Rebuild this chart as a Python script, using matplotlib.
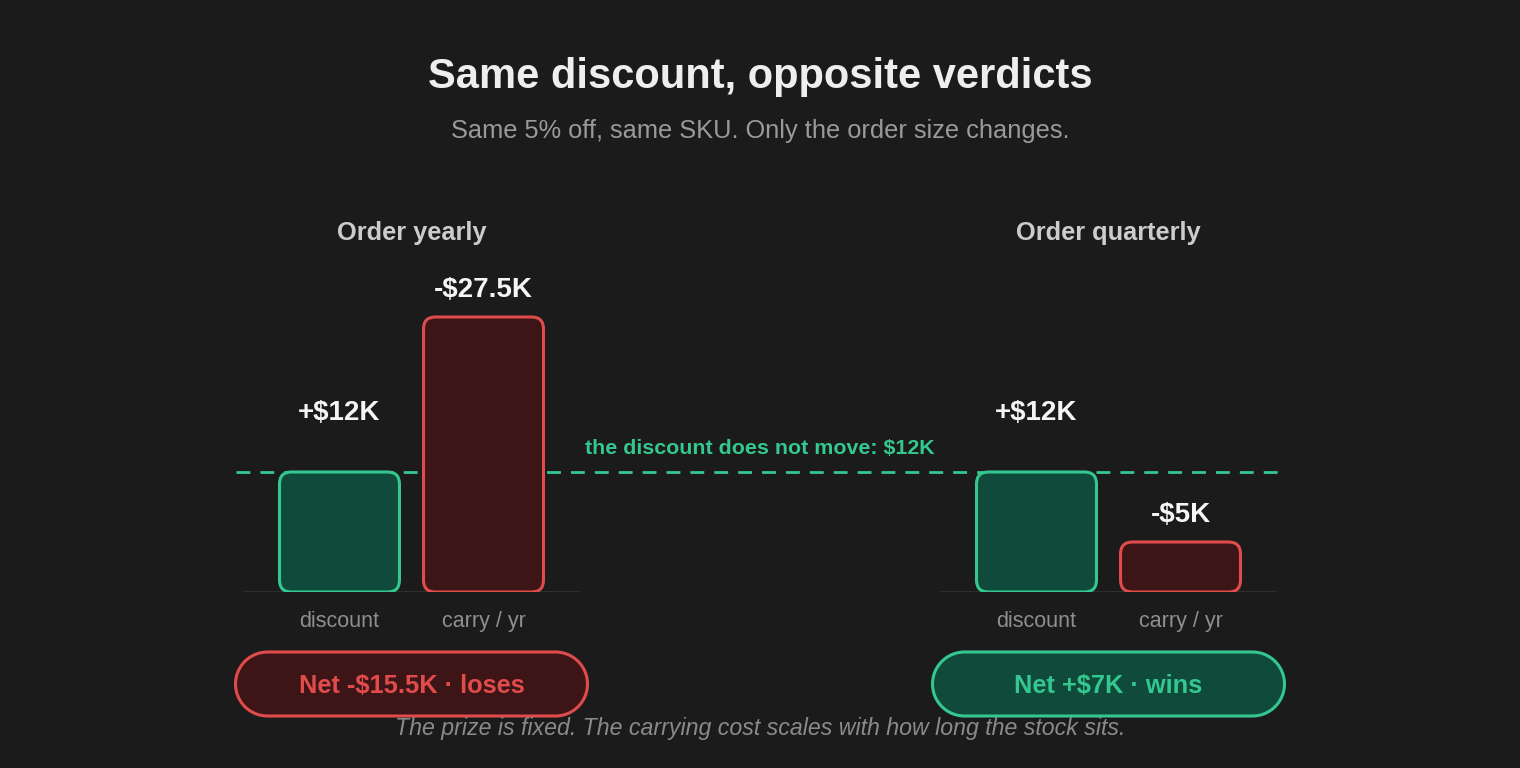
import numpy as np
import matplotlib
matplotlib.use("Agg")
import matplotlib.pyplot as plt
from matplotlib.patches import FancyBboxPatch, Polygon

plt.rcParams['font.family'] = ['Liberation Sans', 'DejaVu Sans']
plt.rcParams['lines.scale_dashes'] = False

# data (thousands of $)
categories = ["discount", "carry / yr"]
panels = ["Order yearly", "Order quarterly"]
yearly = [12, -27.5]
quarterly = [12, -5]
value_labels = [["+$12K", "-$27.5K"], ["+$12K", "-$5K"]]
net_labels = ["Net -$15.5K · loses", "Net +$7K · wins"]
net_values = [-15.5, 7]
discount_note = "the discount does not move: $12K"

BG = "#1b1b1b"
GREEN = "#34c78f"
GREEN_FILL = "#0f4a3a"
RED = "#e04b4b"
RED_FILL = "#3d1516"

W, H = 1520, 768
fig = plt.figure(figsize=(W / 100, H / 100), dpi=100, facecolor=BG)


def fx(x):
    return x / W


def fy(y):
    return 1 - y / H


def pill_points(cx, cy, w, h):
    # stadium outline in pixel units
    r = h / 2
    t = np.linspace(-np.pi / 2, np.pi / 2, 40)
    right = np.column_stack([cx + w / 2 - r + r * np.cos(t), cy + r * np.sin(t)])
    left = np.column_stack([cx - w / 2 + r - r * np.cos(t), cy - r * np.sin(t)])
    return np.vstack([right, left])


# background overlay in pixel units
ax0 = fig.add_axes([0, 0, 1, 1], zorder=0)
ax0.set_xlim(0, W)
ax0.set_ylim(H, 0)
ax0.axis("off")
ax0.set_facecolor(BG)

fig.text(0.5, fy(77), "Same discount, opposite verdicts", ha="center", va="center",
         fontsize=30, fontweight="bold", color="#eeeeee")
fig.text(0.5, fy(131), "Same 5% off, same SKU. Only the order size changes.",
         ha="center", va="center", fontsize=18.3, color="#9a9a9a")

axes = []
for i, (left, vals) in enumerate(zip([243, 940], [yearly, quarterly])):
    ax = fig.add_axes([fx(left), fy(592), 337 / W, 300 / H], zorder=1)
    ax.set_facecolor("none")
    ax.set_xlim(-0.67, 1.67)
    ax.set_ylim(0, 30)
    for s in ax.spines.values():
        s.set_visible(False)
    ax.set_yticks([])
    ax.set_xticks(range(len(categories)), categories)
    ax.tick_params(axis="x", length=0, pad=14, labelsize=15.5, labelcolor="#8f8f8f")
    ax.axhline(0, color="#333333", lw=1.2, zorder=1)

    heights = [abs(v) for v in vals]
    bars = ax.bar(range(len(vals)), heights, width=0.833)
    for j, (b, v) in enumerate(zip(bars, vals)):
        x0, y0 = b.get_x(), b.get_y()
        w, h = b.get_width(), b.get_height()
        b.remove()
        good = v > 0
        patch = FancyBboxPatch((x0, y0), w, h,
                               boxstyle="round,pad=0,rounding_size=0.083",
                               mutation_aspect=14.4,
                               facecolor=GREEN_FILL if good else RED_FILL,
                               edgecolor=GREEN if good else RED,
                               lw=2.2, zorder=3)
        ax.add_patch(patch)
        lift = 42.5 if j == 0 else 19.5
        ax.annotate(value_labels[i][j], (x0 + w / 2, h), xytext=(0, lift),
                    textcoords="offset points", ha="center", va="center",
                    fontsize=20, fontweight="bold", color="#f5f5f5")
    axes.append(ax)

# panel titles
for ax, name in zip(axes, panels):
    pos = ax.get_position()
    cx = (pos.x0 + pos.x1) / 2
    fig.text(cx, fy(233), name, ha="center", va="center",
             fontsize=18.3, fontweight="bold", color="#cccccc")

# dashed reference line at the discount value
y_line = ax0.transData.inverted().transform(axes[0].transData.transform((0, yearly[0])))[1]
ax0.plot([236, 1280], [y_line, y_line], color=GREEN, lw=2.0, dashes=(10, 7.2), zorder=1)
ax0.text(585, y_line - 23, discount_note, ha="left", va="center",
         fontsize=15.4, fontweight="bold", color=GREEN)

# net verdict pills
for ax, lab, nv in zip(axes, net_labels, net_values):
    pos = ax.get_position()
    cx = (pos.x0 + pos.x1) / 2 * W
    good = nv > 0
    pill = Polygon(pill_points(cx, 684, 352, 64), closed=True,
                   facecolor=GREEN_FILL if good else RED_FILL,
                   edgecolor=GREEN if good else RED, lw=2.2)
    ax0.add_patch(pill)
    ax0.text(cx, 686, lab, ha="center", va="center", fontsize=18.3,
             fontweight="bold", color=GREEN if good else RED)

fig.text(0.5, fy(729), "The prize is fixed. The carrying cost scales with how long the stock sits.",
         ha="center", va="center", fontsize=16.7, style="italic", color="#8a8a8a")

fig.savefig("out.png", dpi=100, facecolor=BG)
